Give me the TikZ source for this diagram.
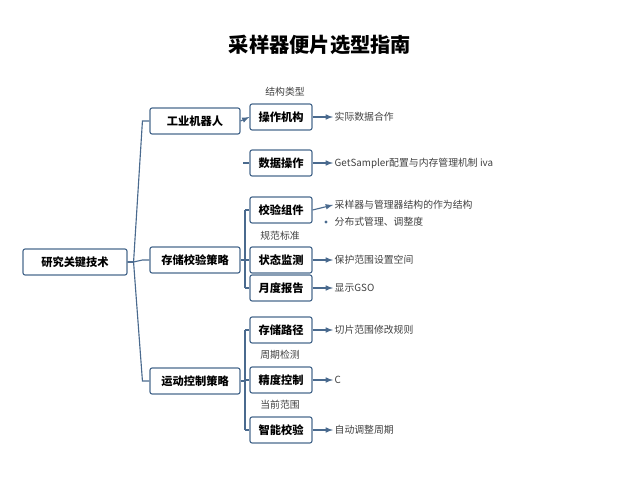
\documentclass[tikz,border=0pt]{standalone}
\usepackage{fontspec}
\setmainfont{Noto Sans CJK SC}
\usetikzlibrary{calc}
\definecolor{lineBlue}{HTML}{4A6A8E}
\definecolor{txtGray}{HTML}{404040}
\tikzset{
  box/.style={draw=lineBlue, thick, rounded corners=1.5pt, fill=white, minimum height=26*0.025cm, font=\footnotesize\bfseries, inner sep=2pt},
  leaf/.style={anchor=west, font=\scriptsize, text=txtGray, inner sep=1pt},
  tag/.style={font=\scriptsize, text=txtGray, inner sep=1pt},
  link/.style={draw=lineBlue, thick},
  arr/.style={draw=lineBlue, thick, -latex}
}
\begin{document}
\begin{tikzpicture}[x=0.025cm, y=-0.025cm]
    \useasboundingbox (0,0) rectangle (640,480);
    \node[font=\Large\bfseries] (title) at (320,45) {采样器便片选型指南};

    % root and first level
    \node[box, minimum width=104*0.025cm] (root) at (75,262) {研究关键技术};
    \node[box, minimum width=90*0.025cm] (A) at (195,121) {工业机器人};
    \node[box, minimum width=90*0.025cm] (B) at (195,260) {存储校验策略};
    \node[box, minimum width=90*0.025cm] (C) at (195,381) {运动控制策略};

    % second level
    \foreach \nm/\yy/\txt in {a1/117/操作机构, a2/163/数据操作, b1/210/校验组件, b2/260/状态监测, b3/288/月度报告, c1/330/存储路径, c2/380/精度控制, c3/430/智能校验}{
      \node[box, minimum width=62*0.025cm] (\nm) at (281,\yy) {\txt};
    }

    % tags above boxes
    \node[tag] (t1) at (285,92) {结构类型};
    \node[tag] (t2) at (280,236) {规范标准};
    \node[tag] (t3) at (280,355) {周期检测};
    \node[tag] (t4) at (280,405) {当前范围};

    % leaves
    \node[leaf] (l1) at (333,117) {实际数据合作};
    \node[leaf] (l2) at (333,163) {GetSampler配置与内存管理机制 iva};
    \node[leaf] (l3) at (333,205) {采样器与管理器结构的作为结构};
    \node[leaf] (l3b) at (333,222) {分布式管理、调整度};
    \node[leaf] (l4) at (333,260) {保护范围设置空间};
    \node[leaf] (l5) at (333,288) {显示GSO};
    \node[leaf] (l6) at (333,330) {切片范围修改规则};
    \node[leaf] (l7) at (333,380) {C};
    \node[leaf] (l8) at (333,430) {自动调整周期};
    \fill[lineBlue] ($(l3b.west)+(-7,0)$) circle (1.2pt);

    % root branches
    \coordinate (r0) at ($(root.east)+(6,0)$);
    \foreach \nm in {A,B,C}{
      \draw[link] (root.east) -- (r0) -- ($(\nm.west)+(-7,0)$) -- (\nm.west);
    }

    % first to second level
    \draw[arr] (A.east) -- (a1.west);
    \draw[link] ($(a2.west)+(-6,0)$) -- (a2.west);
    \draw[link] (B.east) -- ++(5,0);
    \draw[link] (245,210) -- (245,288);
    \foreach \nm in {b1,b2,b3}{ \draw[link] (245,0 |- \nm.west) -- (\nm.west); }
    \draw[link] (C.east) -- ++(5,0);
    \draw[link] (245,330) -- (245,430);
    \foreach \nm in {c1,c2,c3}{ \draw[link] (245,0 |- \nm.west) -- (\nm.west); }

    % second level to leaves
    \foreach \nm/\lf in {a1/l1, a2/l2, b2/l4, b3/l5, c1/l6, c2/l7, c3/l8}{
      \draw[arr] (\nm.east) -- (\lf.west);
    }
    \draw[arr] (b1.east) -- (l3.west);
\end{tikzpicture}
\end{document}
